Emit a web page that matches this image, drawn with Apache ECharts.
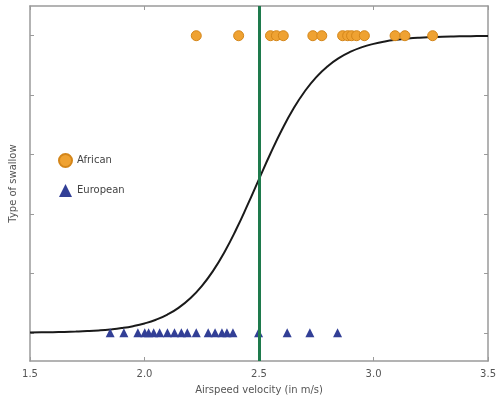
<!DOCTYPE html>
<html>
<head>
<meta charset="utf-8">
<script src="https://cdn.jsdelivr.net/npm/echarts@6/dist/echarts.min.js"></script>
<style>html,body{margin:0;padding:0;background:#fff}#c{width:499px;height:400px}</style>
</head>
<body>
<div id="c"></div>
<script>
// Data
var africanSpeeds = [2.226, 2.411, 2.550, 2.576, 2.606, 2.735, 2.774, 2.865, 2.887, 2.904, 2.926, 2.960, 3.094, 3.137, 3.258];
var europeanSpeeds = [1.850, 1.910, 1.971, 2.001, 2.018, 2.040, 2.066, 2.100, 2.131, 2.161, 2.187, 2.226, 2.278, 2.308, 2.338, 2.360, 2.386, 2.498, 2.623, 2.722, 2.843];
var africanClass = 1;
var europeanClass = 0;
var curveX = [1.50,1.55,1.60,1.65,1.70,1.75,1.80,1.85,1.90,1.95,2.00,2.05,2.10,2.15,2.20,2.25,2.30,2.35,2.40,2.45,2.50,2.55,2.60,2.65,2.70,2.75,2.80,2.85,2.90,2.95,3.00,3.05,3.10,3.15,3.20,3.25,3.30,3.35,3.40,3.45,3.50];
var curveY = [0.001,0.0014,0.002,0.0028,0.004,0.0056,0.0079,0.0112,0.0158,0.0223,0.0314,0.0439,0.0612,0.0847,0.1161,0.1571,0.2092,0.2729,0.3475,0.4305,0.5175,0.6035,0.6835,0.754,0.8131,0.8606,0.8975,0.9255,0.9463,0.9616,0.9726,0.9806,0.9862,0.9902,0.9931,0.9951,0.9966,0.9976,0.9983,0.9988,0.9992];
var threshold = 2.5;
var xTicks = ['1.5','2.0','2.5','3.0','3.5'];
var seriesNames = ['African', 'European'];
var xTitle = 'Airspeed velocity (in m/s)';
var yTitle = 'Type of swallow';

var chart = echarts.init(document.getElementById('c'), null, {renderer: 'canvas'});
var font = 'DejaVu Sans';
var frame = {show: true, onZero: false, lineStyle: {color: '#9a9a9a', width: 1.5}};
var tick = {show: true, inside: true, length: 4, lineStyle: {color: '#9a9a9a'}};
var yTick = {show: true, inside: true, length: 4, lineStyle: {color: '#9a9a9a'}, customValues: [0, 0.2, 0.4, 0.6, 0.8, 1.0]};
var option = {
  animation: false,
  backgroundColor: '#fff',
  textStyle: {fontFamily: font},
  grid: {left: 26, right: 8, top: 6, bottom: 37, containLabel: false},
  legend: {
    orient: 'vertical', left: 53, top: 148, itemGap: 16,
    itemWidth: 13, itemHeight: 13,
    textStyle: {fontFamily: font, fontSize: 10, color: '#444'},
    data: [{name: seriesNames[0], icon: 'circle'}, {name: seriesNames[1], icon: 'triangle'}]
  },
  xAxis: [{
    type: 'value', min: 1.5, max: 3.5, interval: 0.5,
    axisLine: frame, axisTick: tick,
    splitLine: {show: false},
    axisLabel: {color: '#555', fontSize: 10, fontFamily: font, margin: 8,
      formatter: function (v) { var i = Math.round((v - 1.5) / 0.5); return xTicks[i] || ''; }},
    name: xTitle, nameLocation: 'middle', nameGap: 24,
    nameTextStyle: {color: '#555', fontSize: 10, fontFamily: font}
  }, {
    type: 'value', position: 'top', min: 1.5, max: 3.5, interval: 0.5,
    axisLine: frame, axisTick: tick,
    axisLabel: {show: false}, splitLine: {show: false}
  }],
  yAxis: [{
    type: 'value', min: -0.095, max: 1.1,
    axisLine: frame, axisTick: yTick,
    axisLabel: {show: false},
    splitLine: {show: false},
    name: yTitle, nameLocation: 'middle', nameGap: 12, nameRotate: 90,
    nameTextStyle: {color: '#555', fontSize: 10, fontFamily: font}
  }, {
    type: 'value', position: 'right', min: -0.095, max: 1.1,
    axisLine: frame, axisTick: yTick,
    axisLabel: {show: false}, splitLine: {show: false}
  }],
  series: [
    {
      name: 'curve', type: 'line', smooth: true, showSymbol: false, symbol: 'none',
      data: curveX.map(function (x, i) { return [x, curveY[i]]; }),
      lineStyle: {color: '#1a1a1a', width: 2}, z: 2, silent: true
    },
    {
      name: seriesNames[0], type: 'scatter', symbol: 'circle', symbolSize: 10,
      data: africanSpeeds.map(function (x) { return [x, africanClass]; }),
      itemStyle: {color: '#EFA232', borderColor: '#D4861A', borderWidth: 1, opacity: 1}, z: 3
    },
    {
      name: seriesNames[1], type: 'scatter', symbol: 'triangle', symbolSize: 9,
      data: europeanSpeeds.map(function (x) { return [x, europeanClass]; }),
      itemStyle: {color: '#323F96', opacity: 1}, z: 3
    },
    {
      name: 'threshold', type: 'line', data: [], z: 4, silent: true,
      markLine: {
        symbol: 'none', silent: true, label: {show: false},
        lineStyle: {color: '#1E7A4C', width: 3, type: 'solid'},
        data: [{xAxis: threshold}]
      }
    }
  ]
};
chart.setOption(option);
</script>
</body>
</html>
